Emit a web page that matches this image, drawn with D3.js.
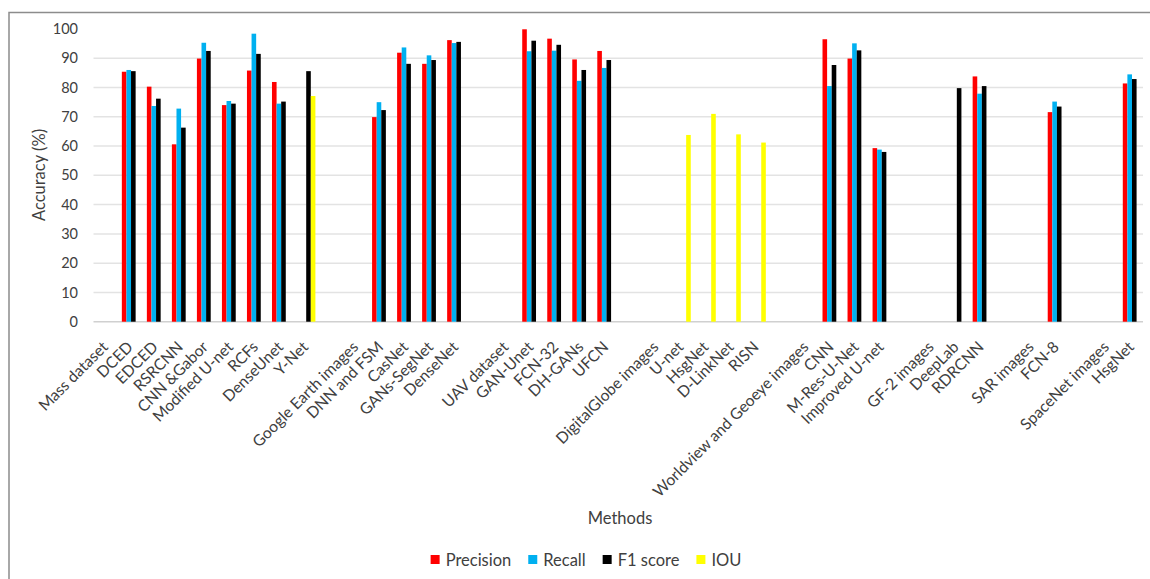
<!DOCTYPE html>
<html>
<head>
<meta charset="utf-8">
<script src="https://cdn.jsdelivr.net/npm/d3@7"></script>
<style>
  body { margin: 0; background: #fff; }
  text { font-family: Lato, "Open Sans", sans-serif; fill: #404040; }
</style>
</head>
<body>
<div id="chart"></div>
<script>
// categories ("" = empty separator slot before each dataset)
var categories = ['Mass dataset', 'DCED', 'EDCED', 'RSRCNN', 'CNN &Gabor', 'Modified U-net', 'RCFs', 'DenseUnet', 'Y-Net', '',
  'Google Earth images', 'DNN and FSM', 'CasNet', 'GANs-SegNet', 'DenseNet', '',
  'UAV dataset', 'GAN-Unet', 'FCN-32', 'DH-GANs', 'UFCN', '',
  'DigitalGlobe images', 'U-net', 'HsgNet', 'D-LinkNet', 'RISN', '',
  'Worldview and Geoeye images', 'CNN', 'M-Res-U-Net', 'Improved U-net', '',
  'GF-2 images', 'DeepLab', 'RDRCNN', '',
  'SAR images', 'FCN-8', '',
  'SpaceNet images', 'HsgNet'];

var precision = [null, 85.4, 80.3, 60.6, 89.9, 74.0, 85.8, 81.9, null, null,
  null, 69.9, 91.9, 88.1, 96.2, null,
  null, 99.9, 96.7, 89.6, 92.5, null,
  null, null, null, null, null, null,
  null, 96.5, 89.9, 59.3, null,
  null, null, 83.8, null,
  null, 71.6, null,
  null, 81.4];

var recall = [null, 86.0, 73.7, 72.8, 95.3, 75.4, 98.4, 74.5, null, null,
  null, 75.0, 93.7, 91.0, 95.2, null,
  null, 92.4, 92.6, 82.3, 86.7, null,
  null, null, null, null, null, null,
  null, 80.5, 95.1, 58.8, null,
  null, null, 77.9, null,
  null, 75.2, null,
  null, 84.5];

var f1score = [null, 85.6, 76.2, 66.3, 92.5, 74.5, 91.5, 75.2, 85.6, null,
  null, 72.3, 88.1, 89.4, 95.6, null,
  null, 96.0, 94.6, 86.0, 89.4, null,
  null, null, null, null, null, null,
  null, 87.7, 92.7, 58.0, null,
  null, 79.8, 80.5, null,
  null, 73.5, null,
  null, 82.9];

var iou = [null, null, null, null, null, null, null, null, 77.1, null,
  null, null, null, null, null, null,
  null, null, null, null, null, null,
  null, 63.8, 71.0, 64.0, 61.2, null,
  null, null, null, null, null,
  null, null, null, null,
  null, null, null,
  null, null];

var seriesNames = ['Precision', 'Recall', 'F1 score', 'IOU'];
var seriesColors = ['#ff0000', '#00b0f0', '#000000', '#ffff00'];
var yTicks = [0, 10, 20, 30, 40, 50, 60, 70, 80, 90, 100];

const WIDTH = 1150;
const HEIGHT = 579;
const PLOT = {left: 93.5, right: 1144.5, top: 29, bottom: 321.7};

var seriesValues = [precision, recall, f1score, iou];

var svg = d3.select('#chart').append('svg')
            .attr('width', WIDTH)
            .attr('height', HEIGHT);

// outer frame of the chart
svg.append('rect')
   .attr('x', 9)
   .attr('y', 12.5)
   .attr('width', WIDTH)
   .attr('height', HEIGHT)
   .attr('fill', 'none')
   .attr('stroke', '#8c8c8c')
   .attr('stroke-width', 1.5);

// scales
var x = d3.scaleBand()
          .domain(d3.range(categories.length))
          .range([PLOT.left, PLOT.right])
          .paddingInner(0)
          .paddingOuter(0);

var groupWidth = x.bandwidth() * 0.735;
var xInner = d3.scaleBand()
               .domain(d3.range(seriesNames.length))
               .range([0, groupWidth]);

var y = d3.scaleLinear()
          .domain([0, 100])
          .range([PLOT.bottom, PLOT.top]);

// gridlines (no line at the very top)
svg.append('g')
   .selectAll('line')
   .data(yTicks.filter(d => d < 100))
   .enter()
   .append('line')
   .attr('x1', PLOT.left)
   .attr('x2', PLOT.right - 1.5)
   .attr('y1', d => y(d))
   .attr('y2', d => y(d))
   .attr('stroke', d => d === 0 ? '#d0d0d0' : '#e3e3e3')
   .attr('stroke-width', 1.5);

// y axis labels
var yAxis = d3.axisLeft(y).tickValues(yTicks).tickSize(0).tickPadding(0);
var yG = svg.append('g')
            .attr('transform', 'translate(' + 78 + ',0)')
            .call(yAxis);
yG.select('.domain').remove();
yG.selectAll('text')
  .attr('font-size', 14.5)
  .attr('font-family', 'Lato, sans-serif')
  .attr('fill', '#404040');

// bars, one group per category
var groups = svg.append('g')
                .selectAll('g.cat')
                .data(categories.map((c, i) => i))
                .enter()
                .append('g')
                .classed('cat', true)
                .attr('transform', i => 'translate(' + (x(i) + (x.bandwidth() - groupWidth) / 2) + ',0)');

groups.selectAll('rect')
      .data(i => seriesValues.map((vals, s) => ({s: s, v: vals[i]})).filter(d => d.v != null))
      .enter()
      .append('rect')
      .attr('x', d => xInner(d.s))
      .attr('width', xInner.bandwidth())
      .attr('y', d => y(d.v))
      .attr('height', d => y(0) - y(d.v))
      .attr('fill', d => seriesColors[d.s]);

// category labels, rotated
svg.append('g')
   .selectAll('text')
   .data(categories.map((c, i) => ({label: c, i: i})).filter(d => d.label !== ''))
   .enter()
   .append('text')
   .attr('transform', d => 'translate(' + (x(d.i) + x.bandwidth() / 2 + 3) + ',' + 348 + ') rotate(-45)')
   .attr('text-anchor', 'end')
   .attr('font-size', 15.7)
   .text(d => d.label);

// axis titles
svg.append('text')
   .attr('transform', 'translate(45,175) rotate(-90)')
   .attr('text-anchor', 'middle')
   .attr('font-size', 16.5)
   .text('Accuracy (%)');

svg.append('text')
   .attr('x', 620)
   .attr('y', 524)
   .attr('text-anchor', 'middle')
   .attr('font-size', 16.5)
   .text('Methods');

// legend
var legend = svg.append('g');
var lx = 0;
seriesNames.forEach(function (name, s) {
  var item = legend.append('g').attr('transform', 'translate(' + lx + ',0)');
  item.append('rect')
      .attr('x', 0)
      .attr('y', -11)
      .attr('width', 9)
      .attr('height', 9)
      .attr('fill', seriesColors[s]);
  var t = item.append('text')
              .attr('x', 15)
              .attr('y', 0)
              .attr('font-size', 16.5)
              .text(name);
  lx += 15 + t.node().getComputedTextLength() + 17;
});
lx -= 17;
legend.attr('transform', 'translate(' + (586 - lx / 2) + ',566)');
</script>
</body>
</html>
